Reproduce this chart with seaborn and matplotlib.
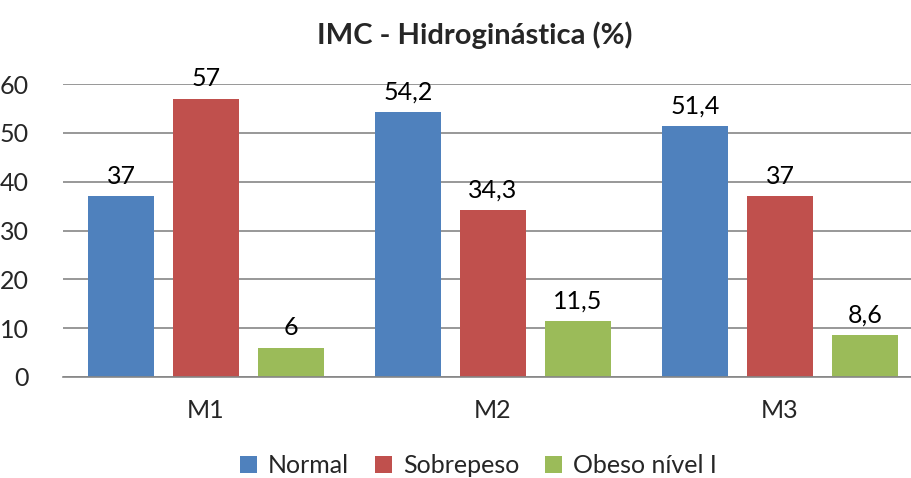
import matplotlib
matplotlib.use("Agg")
import matplotlib.pyplot as plt
import seaborn as sns
import pandas as pd

momentos = ["M1", "M2", "M3"]
categorias = ["Normal", "Sobrepeso", "Obeso nível I"]
normal = [37, 54.2, 51.4]
sobrepeso = [57, 34.3, 37]
obeso = [6, 11.5, 8.6]
cores = ["#4F81BD", "#C0504D", "#9BBB59"]
y_ticks = [0, 10, 20, 30, 40, 50, 60]

df = pd.DataFrame({
    "momento": momentos * 3,
    "categoria": [c for c in categorias for _ in momentos],
    "valor": normal + sobrepeso + obeso,
})

sns.set_theme(style="white")
plt.rcParams["font.family"] = ["Lato", "DejaVu Sans"]

fig = plt.figure(figsize=(9.12, 4.78), dpi=100)
ax = fig.add_axes([62.5 / 912, 101 / 478, 861 / 912, 293 / 478])

sns.barplot(data=df, x="momento", y="valor", hue="categoria",
            order=momentos, hue_order=categorias, palette=cores,
            width=0.8885, gap=0.212, saturation=1, ax=ax, legend=True,
            errorbar=None, linewidth=0)

ax.set_xlim(-0.5, 2.5)
ax.set_ylim(0, 60)
ax.set_yticks(y_ticks)
ax.set_yticklabels([str(t) for t in y_ticks], fontsize=18)
ax.tick_params(axis="x", labelsize=18, pad=16, length=0)
ax.tick_params(axis="y", length=0, pad=24)
ax.set_xlabel("")
ax.set_ylabel("")
ax.yaxis.grid(True, color="#868686", linewidth=1.2)
ax.set_axisbelow(True)
for side in ["left", "right", "top"]:
    ax.spines[side].set_visible(False)
ax.spines["bottom"].set_color("#868686")
ax.spines["bottom"].set_linewidth(1.2)

for cont in ax.containers:
    ax.bar_label(cont, labels=[f"{b.get_height():g}".replace(".", ",") for b in cont],
                 fontsize=18, padding=6, color="black")

fig.text(474.5 / 912, 1 - 35 / 478, "IMC - Hidroginástica (%)", ha="center",
         va="center", fontsize=21, fontweight="bold")

handles, labels = ax.get_legend_handles_labels()
ax.get_legend().remove()
fig.legend(handles, labels, loc="lower center", bbox_to_anchor=(478.5 / 912, -0.045),
           ncol=3, frameon=False, fontsize=18, handlelength=0.65, handleheight=0.65,
           handletextpad=0.45, columnspacing=1.05)

fig.savefig("out.png", dpi=100)
